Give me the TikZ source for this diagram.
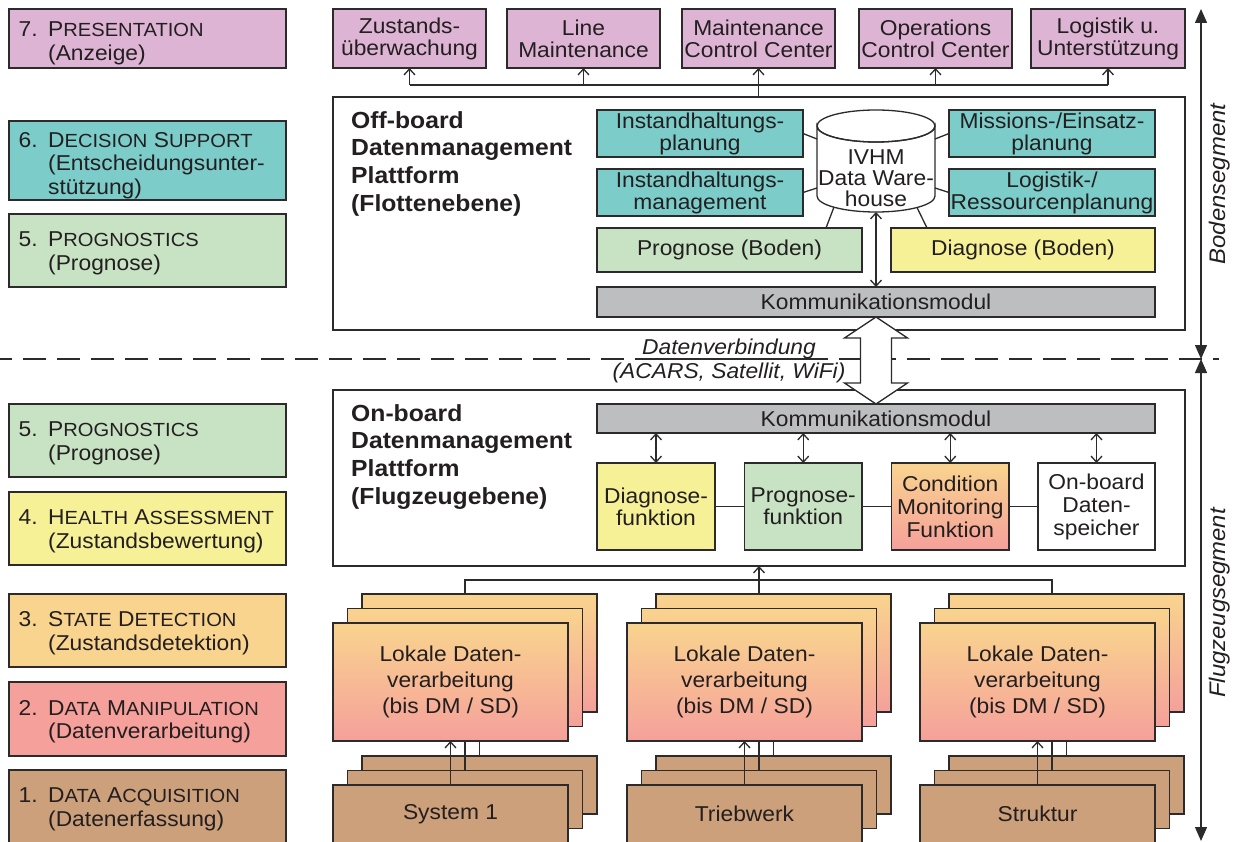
\documentclass[tikz,border=0pt]{standalone}
\usepackage{fontspec}
\setmainfont{Liberation Sans}[FakeStretch=1.06]
\usetikzlibrary{arrows.meta,calc}

\definecolor{cPres}{RGB}{222,180,212}
\definecolor{cDec}{RGB}{124,205,202}
\definecolor{cProg}{RGB}{200,227,196}
\definecolor{cHealth}{RGB}{246,240,150}
\definecolor{cState}{RGB}{249,212,142}
\definecolor{cManip}{RGB}{245,160,155}
\definecolor{cAcq}{RGB}{204,160,122}
\definecolor{cComm}{RGB}{188,190,192}
\definecolor{cLine}{RGB}{45,42,43}
\definecolor{cText}{RGB}{35,31,32}

% fake small caps for the layer names
\newcommand\smc[1]{{\fontsize{19}{23.5}\selectfont #1}}
% rectangle node given by its corners: style, name, x1, y1, x2, y2, text
\newcommand\rbox[7]{\node[#1, minimum width={(#5)-(#3)}, minimum height={(#6)-(#4)}] (#2) at ({((#3)+(#5))/2},{((#4)+(#6))/2}) {#7};}
% stack of three offset boxes: prefix, x, y of front box, height, style, text
\newcommand\stackthree[6]{%
  \rbox{#5}{#1a}{(#2)+29}{(#3)-29}{(#2)+264}{(#3)-29+(#4)}{}
  \rbox{#5}{#1b}{(#2)+14.5}{(#3)-14.5}{(#2)+249.5}{(#3)-14.5+(#4)}{}
  \rbox{#5}{#1c}{#2}{#3}{(#2)+235}{(#3)+(#4)}{#6}}

\tikzset{
  txt/.style={text=cText, font=\fontsize{21.5}{22}\selectfont},
  box/.style={draw=cLine, line width=1.3pt, inner sep=0pt, outer sep=0pt, align=center, txt},
  gbox/.style={box, top color=cState, bottom color=cManip, font=\fontsize{21.5}{26}\selectfont},
  sbox/.style={box, fill=cAcq},
  ltxt/.style={txt, font=\fontsize{21.5}{23.5}\selectfont, align=left, anchor=west, inner sep=0pt},
  title/.style={text=cText, font=\fontsize{23.3}{27.7}\selectfont\bfseries, align=left, anchor=north west, inner sep=0pt},
  ln/.style={draw=cLine, line width=1.3pt},
  arr/.style={ln, -{Straight Barb[length=6pt,width=11pt,line width=1.3pt]}},
  dbl/.style={ln, {Straight Barb[length=6pt,width=11pt,line width=1.3pt]}-{Straight Barb[length=6pt,width=11pt,line width=1.3pt]}},
  seg/.style={ln, {Triangle[length=14pt,width=12pt]}-{Triangle[length=14pt,width=12pt]}},
  itl/.style={text=cText, font=\fontsize{21.5}{22}\selectfont\itshape, inner sep=0pt}
}

\begin{document}
\begin{tikzpicture}[x=1pt,y=-1pt]
\useasboundingbox (0,0) rectangle (1241,842);

% ---------- layer column ----------
\rbox{box,fill=cPres}{L7}{9}{9}{286}{68}{}
\rbox{box,fill=cDec}{L6}{9}{121}{286}{200}{}
\rbox{box,fill=cProg}{L5}{9}{214}{286}{287}{}
\rbox{box,fill=cProg}{L5b}{9}{404}{286}{477}{}
\rbox{box,fill=cHealth}{L4}{9}{492}{286}{565}{}
\rbox{box,fill=cState}{L3}{9}{594}{286}{667}{}
\rbox{box,fill=cManip}{L2}{9}{682}{286}{756}{}
\rbox{box,fill=cAcq}{L1}{9}{770}{286}{844}{}
\node[ltxt] (L7t) at ($(L7.west)+(9.5,5)$) {\makebox[29.5pt][l]{7.}P\smc{RESENTATION}\\\hspace*{29.5pt}(Anzeige)};
\node[ltxt] (L6t) at ($(L6.west)+(9.5,5)$) {\makebox[29.5pt][l]{6.}D\smc{ECISION} S\smc{UPPORT}\\\hspace*{29.5pt}(Entscheidungsunter-\\\hspace*{29.5pt}stützung)};
\node[ltxt] (L5t) at ($(L5.west)+(9.5,3)$) {\makebox[29.5pt][l]{5.}P\smc{ROGNOSTICS}\\\hspace*{29.5pt}(Prognose)};
\node[ltxt] (L5bt) at ($(L5b.west)+(9.5,3)$) {\makebox[29.5pt][l]{5.}P\smc{ROGNOSTICS}\\\hspace*{29.5pt}(Prognose)};
\node[ltxt] (L4t) at ($(L4.west)+(9.5,3)$) {\makebox[29.5pt][l]{4.}H\smc{EALTH} A\smc{SSESSMENT}\\\hspace*{29.5pt}(Zustandsbewertung)};
\node[ltxt] (L3t) at ($(L3.west)+(9.5,2.5)$) {\makebox[29.5pt][l]{3.}S\smc{TATE} D\smc{ETECTION}\\\hspace*{29.5pt}(Zustandsdetektion)};
\node[ltxt] (L2t) at ($(L2.west)+(9.5,2.5)$) {\makebox[29.5pt][l]{2.}D\smc{ATA} M\smc{ANIPULATION}\\\hspace*{29.5pt}(Datenverarbeitung)};
\node[ltxt] (L1t) at ($(L1.west)+(9.5,2.5)$) {\makebox[29.5pt][l]{1.}D\smc{ATA} A\smc{CQUISITION}\\\hspace*{29.5pt}(Datenerfassung)};

% ---------- presentation boxes ----------
\rbox{box,fill=cPres}{p1}{333}{9}{486}{68}{Zustands-\\überwachung}
\rbox{box,fill=cPres}{p2}{507}{9}{660}{68}{Line\\Maintenance}
\rbox{box,fill=cPres}{p3}{682}{9}{835}{68}{Maintenance\\Control Center}
\rbox{box,fill=cPres}{p4}{859}{9}{1012}{68}{Operations\\Control Center}
\rbox{box,fill=cPres}{p5}{1031}{9}{1185}{68}{Logistik u.\\Unterstützung}

% ---------- off-board platform ----------
\rbox{box,fill=white}{offb}{333}{97}{1185}{330}{}
\node[title] (offT) at (351,111) {Off-board\\Datenmanagement\\Plattform\\(Flottenebene)};
\rbox{box,fill=cDec}{ihp}{597}{110}{803}{157}{Instandhaltungs-\\planung}
\rbox{box,fill=cDec}{ihm}{597}{169}{803}{216}{Instandhaltungs-\\management}
\rbox{box,fill=cDec}{mis}{949}{110}{1155}{157}{Missions-/Einsatz-\\planung}
\rbox{box,fill=cDec}{lgr}{949}{169}{1155}{216}{Logistik-/\\Ressourcenplanung}
\rbox{box,fill=cProg}{prb}{597}{228}{862}{272}{Prognose (Boden)}
\rbox{box,fill=cHealth}{dib}{891}{228}{1155}{272}{Diagnose (Boden)}
\rbox{box,fill=cComm}{komOff}{597}{287}{1155}{317}{Kommunikationsmodul}

% data warehouse cylinder
\path[ln, fill=white] (817,126) -- (817,196)
  arc[start angle=180, end angle=360, x radius=59pt, y radius=16pt] -- (935,126)
  arc[start angle=0, end angle=-180, x radius=59pt, y radius=16pt] -- cycle;
\draw[ln] (876,126) ellipse[x radius=59pt, y radius=16pt];
\node[txt, align=center, inner sep=0pt, font=\fontsize{21.5}{21}\selectfont] (dwh) at (876,178) {IVHM\\Data Ware-\\house};
\coordinate (cyl1) at (817,139);
\coordinate (cyl2) at (817,188);
\coordinate (cyl3) at (935,139);
\coordinate (cyl4) at (935,188);
\coordinate (cyl5) at (834,207);
\coordinate (cyl6) at (917,207.5);
\coordinate (cylB) at (876,212);
\draw[ln] (ihp.east) -- (cyl1);
\draw[ln] (ihm.east) -- (cyl2);
\draw[ln] (mis.west) -- (cyl3);
\draw[ln] (lgr.west) -- (cyl4);
\draw[ln] (cyl5) -- ($(prb.north east)+(-36,0)$);
\draw[ln] (cyl6) -- ($(dib.north west)+(36,0)$);
\draw[dbl] (cylB) -- (cylB |- komOff.north);

% distribution to the presentation layer
\coordinate (tbus) at (0,85);
\draw[ln] (p1.south |- tbus) -- (p5.south |- tbus);
\draw[ln] (p3.south |- offb.north) -- (p3.south |- tbus);
\foreach \p in {p1,p2,p3,p4,p5} \draw[arr] (\p.south |- tbus) -- (\p.south);

% ---------- on-board platform ----------
\rbox{box,fill=white}{onb}{333}{390}{1185}{566}{}
\node[title] (onT) at (351,404) {On-board\\Datenmanagement\\Plattform\\(Flugzeugebene)};
\rbox{box,fill=cComm}{komOn}{597}{404}{1155}{433}{Kommunikationsmodul}
\rbox{box,fill=cHealth}{f1}{597}{463}{715}{550}{Diagnose-\\funktion}
\rbox{box,fill=cProg}{f2}{744.5}{463}{862}{550}{Prognose-\\funktion}
\rbox{box,top color=cState,bottom color=cManip,font=\fontsize{21.5}{23}\selectfont}{f3}{891.5}{463}{1009}{550}{Condition\\Monitoring\\Funktion}
\rbox{box,fill=white,font=\fontsize{21.5}{23}\selectfont}{f4}{1038}{463}{1155}{550}{On-board\\Daten-\\speicher}
\draw[ln] (f1.east) -- (f2.west);
\draw[ln] (f2.east) -- (f3.west);
\draw[ln] (f3.east) -- (f4.west);
\foreach \f in {f1,f2,f3,f4} \draw[dbl] (komOn.south -| \f.north) -- (\f.north);

% ---------- ground / aircraft separation ----------
\coordinate (dashL) at (0,359);
\coordinate (dashR) at (1219,359);
\draw[ln, dash pattern=on 23pt off 11pt, dash phase=11pt] (dashL) -- (dashR);
\node[itl, anchor=south] (dv) at (729,359) {Datenverbindung};
\draw[ln] (dv.south west) -- (dv.south east);
\node[itl, anchor=base] (acars) at (729,378) {(ACARS, Satellit, WiFi)};

% wide data link arrow
\draw[ln, fill=white] (komOff.south) -- ++(31.5,21) -- ++(-16,0)
  -- ($(komOn.north)+(15.5,-21)$) -- ++(16,0) -- (komOn.north)
  -- ++(-31.5,-21) -- ++(16,0) -- ($(komOff.south)+(-15.5,21)$) -- ++(-16,0) -- cycle;

% segment arrows
\coordinate (sTop) at (1201,9);
\coordinate (sMid) at (1201,359);
\coordinate (sBot) at (1201,841);
\draw[seg] (sTop) -- (sMid);
\draw[seg] (sMid) -- (sBot);
\node[txt, font=\fontsize{22.5}{22}\selectfont\itshape, rotate=90, anchor=base, inner sep=0pt] (bseg) at (1225,184) {Bodensegment};
\node[txt, font=\fontsize{22.5}{22}\selectfont\itshape, rotate=90, anchor=base, inner sep=0pt] (fseg) at (1225,603) {Flugzeugsegment};

% ---------- local processing and sensors ----------
\stackthree{LA}{333}{623}{118}{gbox}{Lokale Daten-\\verarbeitung\\(bis DM / SD)}
\stackthree{LB}{627}{623}{118}{gbox}{Lokale Daten-\\verarbeitung\\(bis DM / SD)}
\stackthree{LC}{920}{623}{118}{gbox}{Lokale Daten-\\verarbeitung\\(bis DM / SD)}
\stackthree{SA}{333}{785}{58}{sbox}{System 1}
\stackthree{SB}{627}{785}{58}{sbox}{Triebwerk}
\stackthree{SC}{920}{785}{58}{sbox}{Struktur}

\draw[arr] (SAc.north) -- (LAc.south);
\draw[ln] (SAb.north) -- (SAb.north |- LAc.south);
\draw[ln] (SAa.north) -- (SAa.north |- LAc.south);
\draw[arr] (SBc.north) -- (LBc.south);
\draw[ln] (SBb.north) -- (SBb.north |- LBc.south);
\draw[ln] (SBa.north) -- (SBa.north |- LBc.south);
\draw[arr] (SCc.north) -- (LCc.south);
\draw[ln] (SCb.north) -- (SCb.north |- LCc.south);
\draw[ln] (SCa.north) -- (SCa.north |- LCc.south);

\coordinate (bbus) at (0,580);
\draw[ln] (LAb.north |- LAa.north) -- (LAb.north |- bbus) -- (LCb.north |- bbus) -- (LCb.north |- LCa.north);
\draw[arr] (LBb.north |- LBa.north) -- (LBb.north |- onb.south);
\end{tikzpicture}
\end{document}
